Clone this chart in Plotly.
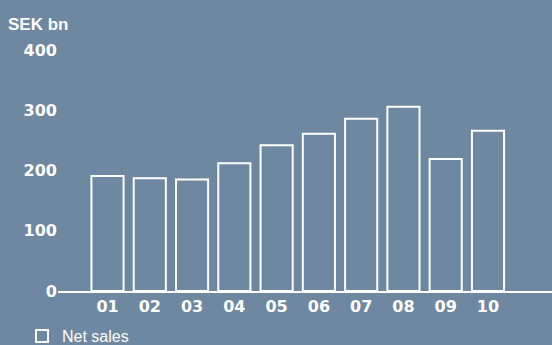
import plotly.graph_objects as go

categories = ["01", "02", "03", "04", "05", "06", "07", "08", "09", "10"]
net_sales = [191, 187, 185, 212, 242, 261, 286, 306, 219, 266]
y_ticks = [0, 100, 200, 300, 400]

W, H = 552, 345
BG = "#6d88a0"

fig = go.Figure()
fig.add_trace(go.Bar(
    x=categories, y=net_sales, name="Net sales",
    width=0.76,
    marker=dict(color="rgba(0,0,0,0)", line=dict(color="white", width=2)),
))

fig.update_layout(
    width=W, height=H,
    margin=dict(l=58, r=0, t=50, b=53.5, autoexpand=False),
    paper_bgcolor=BG, plot_bgcolor=BG,
    font=dict(family="Liberation Sans, Arial, sans-serif", color="white", size=16),
    title=dict(text="<b>SEK bn</b>", x=8 / W, xanchor="left", xref="container",
               y=1 - 24.5 / H, yanchor="middle", yref="container",
               font=dict(size=17, color="white", family="Liberation Sans, Arial, sans-serif")),
    showlegend=True,
    legend=dict(x=22 / W, xanchor="left", xref="container",
                y=1 - 336 / H, yanchor="middle", yref="container",
                bgcolor="rgba(0,0,0,0)", borderwidth=0,
                font=dict(size=16, color="white", family="Liberation Sans, Arial, sans-serif")),
)
fig.update_xaxes(
    type="category", range=[-1.171, 10.514],
    showline=True, linecolor="white", linewidth=2,
    showgrid=False, zeroline=False, ticks="",
    tickfont=dict(family="DejaVu Sans, sans-serif", size=16, color="white", weight="bold"),
    fixedrange=True,
)
fig.update_yaxes(
    range=[0, 400], tickvals=y_ticks, ticktext=[str(v) for v in y_ticks],
    showline=False, showgrid=False, zeroline=False, ticks="",
    tickfont=dict(family="DejaVu Sans, sans-serif", size=16, color="white", weight="bold"),
    fixedrange=True,
)

fig.write_html("out.html", config={"displayModeBar": False})
